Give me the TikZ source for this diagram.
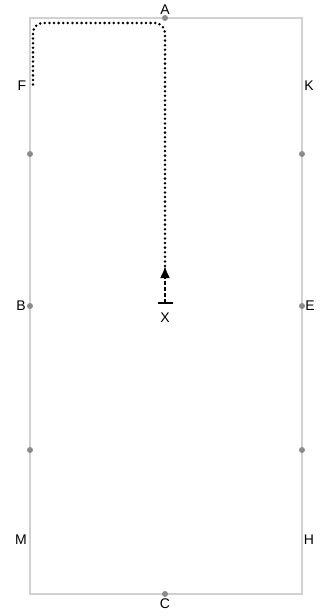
\documentclass[tikz,border=0pt]{standalone}
\usepackage{fontspec}
\setmainfont{Liberation Sans}
\usetikzlibrary{arrows.meta}

\begin{document}
\begin{tikzpicture}[
  x=1pt, y=-1pt,
  arena/.style={draw=black!18, line width=1.5pt},
  marker/.style={fill=black!45, draw=none, circle, inner sep=0pt, minimum size=6pt},
  letter/.style={font=\fontsize{14}{16}\selectfont, inner sep=0pt},
  route/.style={line width=2.8pt, line cap=round, dash pattern=on 0pt off 4.6pt, rounded corners=10pt},
  start/.style={{Bar[width=15pt,line width=2pt]}-{Latex[length=12pt,width=10pt]},
                line width=2.2pt, dash pattern=on 4pt off 2pt},
]
\useasboundingbox (0,0) rectangle (324,616);

% Arena outline
\draw[arena] (30,18) rectangle (302,594);

% Markers on the arena edge
\node[marker] (mA) at (165,18)  {};
\node[marker] (mC) at (165,594) {};
\node[marker] (mB) at (30,306)  {};
\node[marker] (mE) at (302,306) {};
\node[marker] (mBF) at (30,154) {};
\node[marker] (mEK) at (302,154) {};
\node[marker] (mBM) at (30,450) {};
\node[marker] (mEH) at (302,450) {};

% Letters
\node[letter] (A) at (165,10)  {A};
\node[letter] (C) at (165,604) {C};
\node[letter] (B) at (21,306)  {B};
\node[letter] (E) at (310,306) {E};
\node[letter] (F) at (22,86)   {F};
\node[letter] (K) at (309,86)  {K};
\node[letter] (M) at (21,540)  {M};
\node[letter] (H) at (309,540) {H};
\node[letter] (X) at (165,318) {X};

% Route: start at X, up the centre line, left along the top, down to F
\coordinate (Xpos) at (165,304);
\coordinate (tip)  at (165,266);
\coordinate (top)  at (33,23);
\coordinate (Fend) at (33,86);

\draw[start] (Xpos) -- (tip);
\draw[route] (tip) -- (tip |- top) -| (Fend);
\end{tikzpicture}
\end{document}
